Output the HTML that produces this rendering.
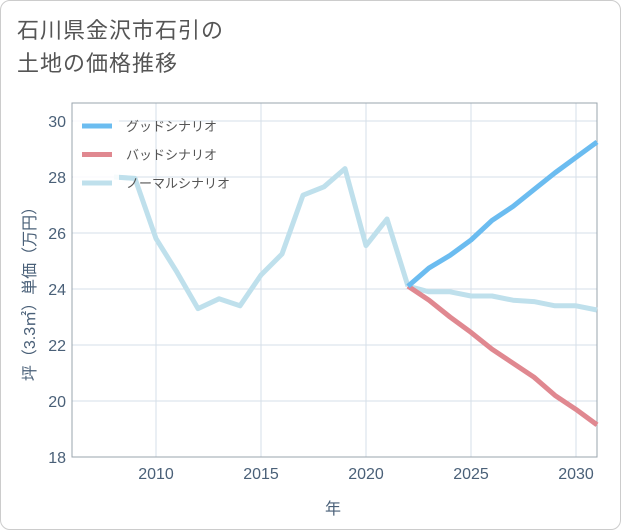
<!DOCTYPE html>
<html><head><meta charset="utf-8"><style>
body{margin:0;background:#fff;font-family:"Liberation Sans","Noto Sans CJK JP",sans-serif}
.card{position:absolute;left:0;top:0;width:619px;height:528px;border:1px solid #ccc;border-radius:10px;background:#fff}
.title{position:absolute;left:17px;top:14px;font-size:22px;line-height:33px;color:#555;letter-spacing:1px}
</style></head><body>
<div class="card"></div>
<div class="title">石川県金沢市石引の<br>土地の価格推移</div>
<svg id="c" width="621" height="530" style="position:absolute;left:0;top:0"></svg>
<script>
const years=[2008,2009,2010,2011,2012,2013,2014,2015,2016,2017,2018,2019,2020,2021,2022];
const normalHist=[28.0,27.95,25.8,24.6,23.3,23.65,23.4,24.5,25.25,27.35,27.65,28.3,25.55,26.5,24.1];
const futYears=[2022,2023,2024,2025,2026,2027,2028,2029,2030,2031];
const good=[24.1,24.75,25.2,25.75,26.45,26.95,27.55,28.15,28.7,29.25];
const bad=[24.1,23.6,23.0,22.45,21.85,21.35,20.85,20.2,19.7,19.15];
const normalFut=[24.1,23.9,23.9,23.75,23.75,23.6,23.55,23.4,23.4,23.25];
const xTicks=[2010,2015,2020,2025,2030];
const yTicks=[18,20,22,24,26,28,30];
const NS="http://www.w3.org/2000/svg";
const svg=document.getElementById('c');
const L=72,R=597,T=103,B=457;
const x=v=>L+(v-2006)*(R-L)/25;
const y=v=>B-(v-18)*(B-T)/(30.643-18);
function el(t,a,p){const e=document.createElementNS(NS,t);for(const k in a)e.setAttribute(k,a[k]);(p||svg).appendChild(e);return e;}
xTicks.forEach(t=>{
const g=el('line',{x1:x(t),x2:x(t),y1:T,y2:B,stroke:'#d5dfe8','stroke-width':1});


const s=el('text',{x:x(t),y:B+22,'text-anchor':'middle','font-size':16,fill:'#4a6078'});s.textContent=t;


});
yTicks.forEach(t=>{
const g=el('line',{x1:L,x2:R,y1:y(t),y2:y(t),stroke:'#d5dfe8','stroke-width':1});


const s=el('text',{x:L-6,y:y(t)+6,'text-anchor':'end','font-size':16,fill:'#4a6078'});s.textContent=t;


});
const fr=el('rect',{x:L,y:T,width:R-L,height:B-T,fill:'none',stroke:'#9aa4ae','stroke-width':1});


function line(xs,vs,c,n){const p=el('polyline',{points:xs.map((v,i)=>x(v)+','+y(vs[i])).join(' '),fill:'none',stroke:c,'stroke-width':5,'stroke-linejoin':'round'});

}
line(years,normalHist,'#bfe0ec','normal-history-line');
line(futYears,normalFut,'#bfe0ec','normal-scenario-line');
line(futYears,bad,'#e08890','bad-scenario-line');
line(futYears,good,'#6bbcf0','good-scenario-line');
const lb=el('rect',{x:L+1,y:T+1,width:46,height:92,fill:'rgba(255,255,255,0.85)'});


[['グッドシナリオ','#6bbcf0'],['バッドシナリオ','#e08890'],['ノーマルシナリオ','#bfe0ec']].forEach((d,i)=>{
const yy=126+i*28.5;
const l=el('line',{x1:82,x2:112,y1:yy,y2:yy,stroke:d[1],'stroke-width':5});


const t=el('text',{x:126,y:yy+5,'font-size':13,fill:'#555'});t.textContent=d[0];


});
const xt=el('text',{x:333,y:514,'text-anchor':'middle','font-size':16,fill:'#4a6078'});xt.textContent='年';


const yt=el('text',{x:0,y:0,'text-anchor':'middle','font-size':16,fill:'#4a6078',transform:'translate(35,290) rotate(-90)'});yt.textContent='坪（3.3㎡）単価（万円）';


</script>
</body></html>
